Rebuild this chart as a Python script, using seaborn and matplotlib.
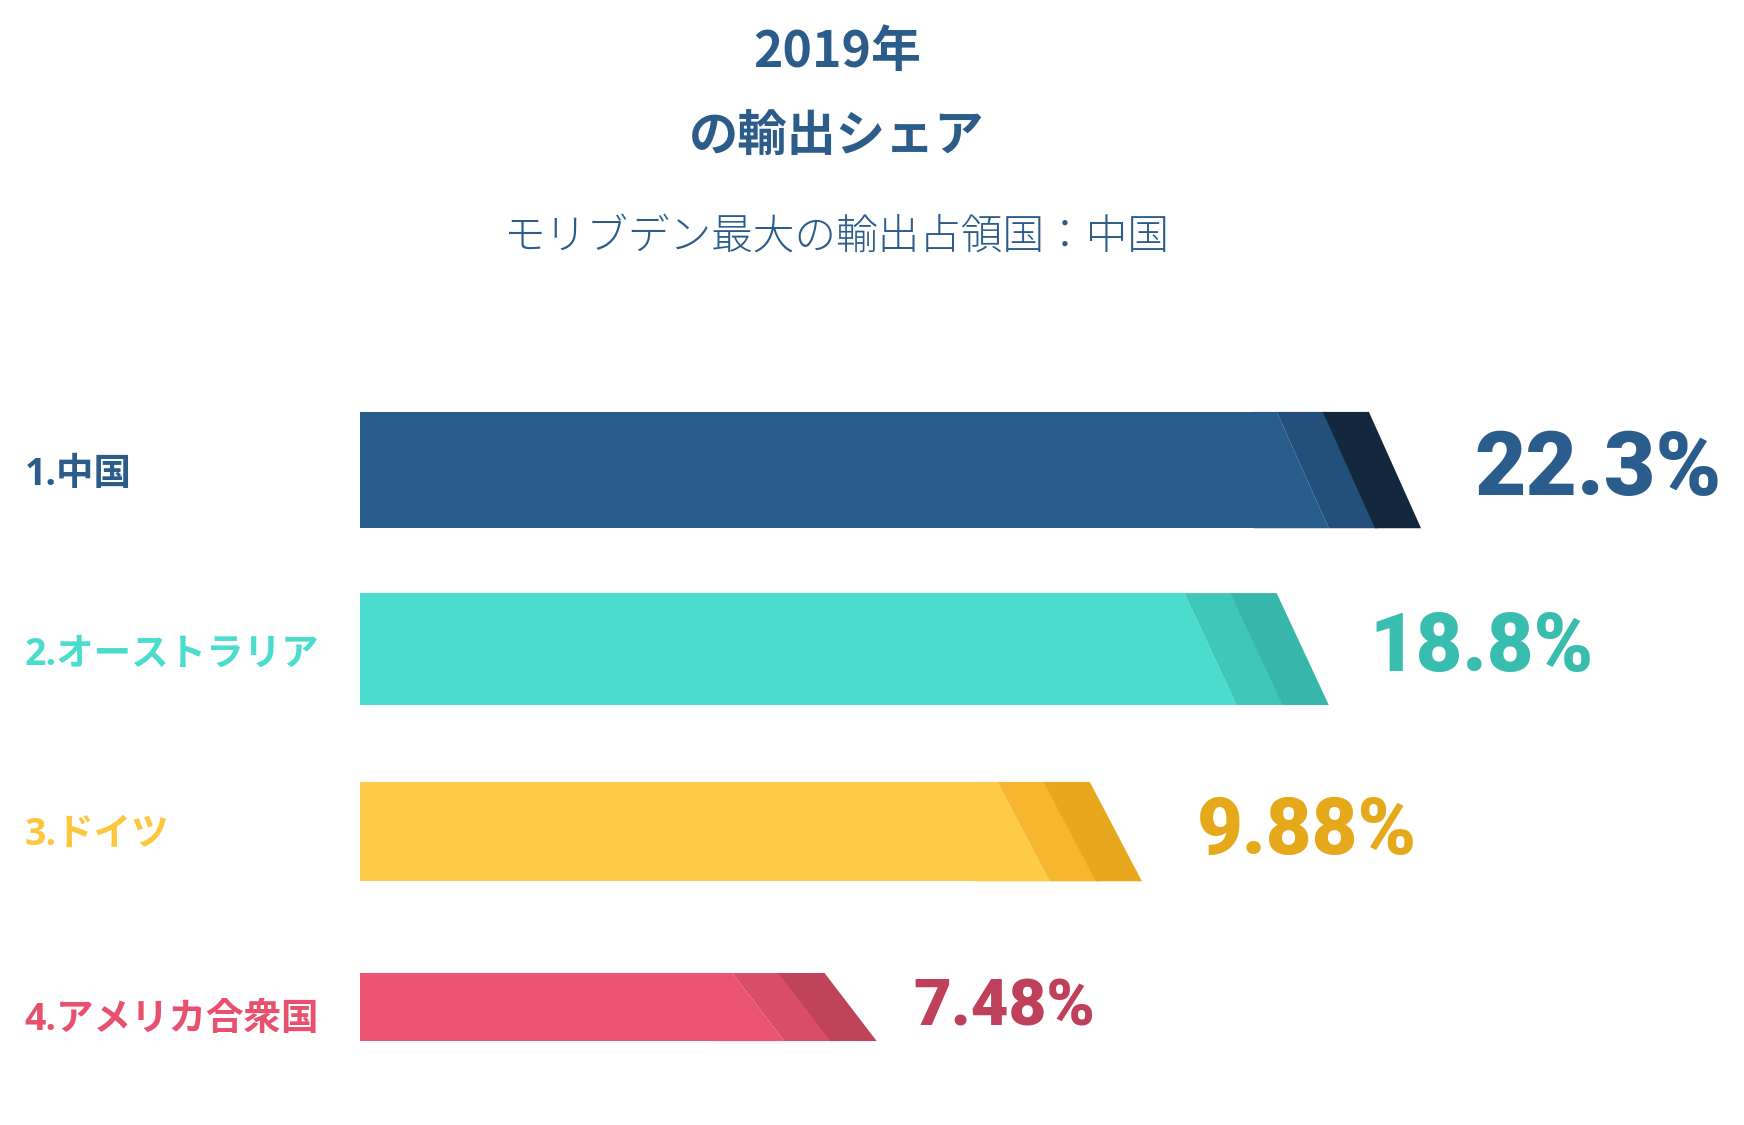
import numpy as np
import pandas as pd
import matplotlib
matplotlib.use("Agg")
import matplotlib.pyplot as plt
import matplotlib.transforms as mtransforms
import seaborn as sns

# ── data ─────────────────────────────────────────────────────────────────────
countries = ["1.中国", "2.オーストラリア", "3.ドイツ", "4.アメリカ合衆国"]
share_pct = [22.3, 18.8, 9.88, 7.48]
share_labels = ["22.3%", "18.8%", "9.88%", "7.48%"]
# drawn bar length (axis units, 0–30 across the plot area) — not proportional to share
bar_len = [23.0, 21.0, 16.95, 11.2]

title_year = "2019年"
title_main = "の輸出シェア"
subtitle = "モリブデン最大の輸出占領国：中国"

# ── styling ──────────────────────────────────────────────────────────────────
main_colors = ["#285C8A", "#4ADCCC", "#FDCB45", "#EC5572"]
mid_colors  = ["#23507A", "#3FC7B8", "#F6B630", "#D94D67"]
dark_colors = ["#13283D", "#36B7A9", "#E7A81E", "#BF4359"]
label_colors = ["#2B5C8A", "#4ADCCC", "#FCC73D", "#E8506E"]
value_colors = ["#2A5D8C", "#38BDAE", "#E6A91C", "#BF405A"]
value_sizes = [64, 58, 57, 47]
value_gap = [1.15, 0.88, 1.2, 0.8]
label_dy = [0.03, 0.03, 0.04, 0.07]
bar_h = [0.65, 0.625, 0.555, 0.38]
bar_dy = [0.0, 0.0, 0.02, 0.0]
TITLE_C = "#2B5C8A"

SLANT = 1.13   # horizontal offset of the slanted end
BAND = 1.0     # width of each shaded band

sns.set_theme(style="white")
plt.rcParams["font.family"] = ["Noto Sans CJK JP", "DejaVu Sans"]

fig = plt.figure(figsize=(17.44, 11.25), dpi=100)
fig.patch.set_facecolor("white")
ax = fig.add_axes([0.2064, 0.0253, 0.7936, 0.6364])

df = pd.DataFrame({
    "country": countries,
    "body": [l - SLANT - 2 * BAND for l in bar_len],
})
sns.barplot(data=df, x="body", y="country", hue="country",
            palette=main_colors, orient="h", width=0.6, legend=False,
            saturation=1, ax=ax, linewidth=0)

for i, patch in enumerate(ax.patches[:len(countries)]):
    patch.set_y(i + bar_dy[i] - bar_h[i] / 2)
    patch.set_height(bar_h[i])

for i, L in enumerate(bar_len):
    top = i + bar_dy[i] - bar_h[i] / 2
    bot = i + bar_dy[i] + bar_h[i] / 2
    b0 = L - SLANT - 2 * BAND
    # main-colour wedge, overlapping the body so no seam shows
    ax.fill([b0 - 0.5, b0, L - 2 * BAND, b0 - 0.5], [top, top, bot, bot],
            color=main_colors[i], lw=0)
    # middle band
    ax.fill([L - SLANT - 2 * BAND, L - SLANT - BAND + 0.05, L - BAND + 0.05, L - 2 * BAND],
            [top, top, bot, bot], color=mid_colors[i], lw=0)
    # dark band
    ax.fill([L - SLANT - BAND, L - SLANT, L, L - BAND],
            [top, top, bot, bot], color=dark_colors[i], lw=0)
    # value label
    ax.text(L + value_gap[i], i + bar_dy[i], share_labels[i], ha="left", va="center",
            fontsize=value_sizes[i], fontweight="heavy",
            family=["Roboto", "DejaVu Sans"], color=value_colors[i])

ax.set_xlim(0, 30)
ax.set_ylim(3.5, -0.5)
ax.set_axis_off()

# category labels at the left edge of the figure
trans = mtransforms.blended_transform_factory(fig.transFigure, ax.transData)
for i, name in enumerate(countries):
    ax.text(0.014, i + label_dy[i], name, transform=trans, ha="left", va="center",
            fontsize=27, fontweight="bold", color=label_colors[i],
            family=["Open Sans", "Noto Sans CJK JP"])

fig.text(0.48, 0.953, title_year, ha="center", va="center",
         fontsize=36, fontweight="bold", color=TITLE_C)
fig.text(0.48, 0.879, title_main, ha="center", va="center",
         fontsize=35.5, fontweight="bold", color=TITLE_C)
fig.text(0.48, 0.789, subtitle, ha="center", va="center",
         fontsize=30, fontweight="light", color=TITLE_C)

fig.savefig("out.png", dpi=100, facecolor="white")
